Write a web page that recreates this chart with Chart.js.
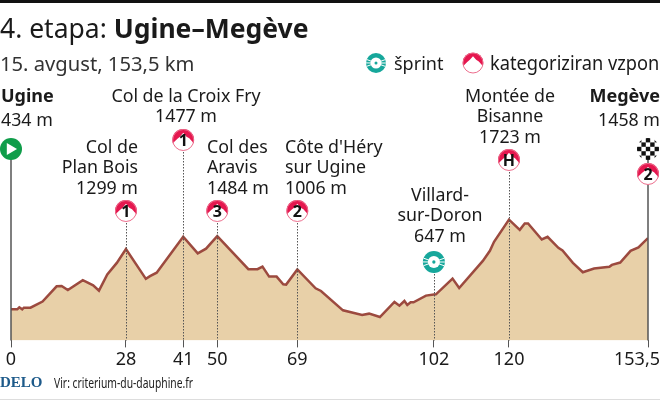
<!DOCTYPE html>
<html lang="sl">
<head>
<meta charset="utf-8">
<title>4. etapa: Ugine–Megève</title>
<script src="https://cdn.jsdelivr.net/npm/chart.js@4/dist/chart.umd.min.js"></script>
<style>
  html, body { margin: 0; padding: 0; background: #fff; }
  body { width: 660px; height: 400px; overflow: hidden; position: relative; font-family: "Noto Sans", sans-serif; color: #1a1a1a; }
  canvas { position: absolute; left: 0; top: 0; }
  .txt { position: absolute; white-space: nowrap; margin: 0; font-weight: 400; }
  #bar { position: absolute; left: 0; top: 0; width: 660px; height: 3px; background: #111; }
  #rule { position: absolute; left: 0; top: 399px; width: 660px; height: 1px; background: #ddd; }
  #title { left: 0; top: 10px; font-size: 26.5px; line-height: 36px; }
  #sub { left: 0; top: 50px; font-size: 20.2px; line-height: 26px; color: #333; }
  #lg1 { left: 394px; top: 50px; font-size: 18px; line-height: 26px; }
  #lg2 { left: 490px; top: 50px; font-size: 19px; line-height: 26px; transform: scaleX(.96); transform-origin: left; }
  #delo { left: 0; top: 374px; font: bold 15px "Liberation Serif", serif; color: #1d5a8a; }
  #src { left: 54px; top: 374px; font-size: 13.5px; color: #222; transform: scaleX(.765); transform-origin: left; }
</style>
</head>
<body>
<canvas id="profile" width="660" height="400"></canvas>
<div id="bar"></div>
<h1 class="txt" id="title">4. etapa: <b>Ugine–Megève</b></h1>
<p class="txt" id="sub">15. avgust, 153,5 km</p>
<span class="txt" id="lg1">šprint</span>
<span class="txt" id="lg2">kategoriziran vzpon</span>
<span class="txt" id="delo">DELO</span>
<span class="txt" id="src">Vir: criterium-du-dauphine.fr</span>
<div id="rule"></div>
<script>
"use strict";

/* --- DATA --- */

const km = [0, 1.5, 2, 2.7, 3.1, 4.7, 7.6, 11, 12.2, 13.7, 17.3, 19.8, 21.2, 23.2, 25.5, 27.7,
  32.5, 33.5, 35.1, 41.5, 45, 47, 49.7, 57.2, 59.4, 60.6, 62.2, 64, 65.6, 66.3, 69,
  73.4, 74.7, 80, 84.6, 86.3, 88.9, 92.4, 93.6, 94.8, 95.5, 96.3, 97, 100, 101.9, 102.4,
  106.4, 108, 113.7, 115.4, 116.4, 120, 122.6, 123.8, 124.6, 127.9, 129.3, 131.9, 132.9,
  135.4, 137.8, 140.5, 144.2, 144.8, 146.8, 149.3, 151.2, 153.5];

const elevation = [434, 434, 463, 434, 458, 458, 546, 765, 770, 711, 852, 779, 702, 935, 1101, 1299,
  872, 911, 960, 1477, 1237, 1305, 1484, 1010, 1010, 1048, 904, 904, 794, 789, 1006,
  736, 698, 420, 352, 372, 324, 540, 487, 554, 496, 535, 535, 631, 647, 650,
  876, 741, 1130, 1274, 1404, 1723, 1576, 1668, 1668, 1437, 1476, 1317, 1279,
  1101, 967, 1020, 1044, 1072, 1106, 1274, 1322, 1458];

// where the ticks sit in the picture, and what they are labelled
const tickKm = [0, 27.7, 41.5, 49.7, 69, 101.9, 120, 153.5];
const tickLabels = ['0', '28', '41', '50', '69', '102', '120', '153,5'];

const climbKm = [27.7, 41.5, 49.7, 69, 120, 153.5];
const climbCat = ['1', '1', '3', '2', 'H', '2'];
const sprintKm = [101.9];
const startKm = 0;
const finishKm = 153.5;

const placeNames = [
  ['Ugine'],
  ['Col de', 'Plan Bois'],
  ['Col de la Croix Fry'],
  ['Col des', 'Aravis'],
  ["Côte d'Héry", 'sur Ugine'],
  ['Villard-', 'sur-Doron'],
  ['Montée de', 'Bisanne'],
  ['Megève']
];
const placeHeights = ['434 m', '1299 m', '1477 m', '1484 m', '1006 m', '647 m', '1723 m', '1458 m'];

/* --- LAYOUT (pixels on the page) --- */

const labelX = [1, 138, 186, 207, 285, 440, 510, 660];
const labelAlign = ['left', 'right', 'center', 'left', 'left', 'center', 'center', 'right'];
const labelTop = [98, 146, 95, 146, 146, 194, 95, 98];
const labelBold = [true, false, false, false, false, false, false, true];
const climbBadgeY = [211, 140, 211, 211, 160, 174];

const CRIMSON = '#e5174f';
const PINK = '#ec6d8c';
const TEAL = '#16a79b';
const GREEN = '#0f9d4a';
const FONT = '"Noto Sans", sans-serif';

function climbBadge(ctx, x, y, r, txt) {
  ctx.save();
  ctx.beginPath();
  ctx.arc(x, y, r, 0, Math.PI * 2);
  ctx.fillStyle = '#fff';
  ctx.fill();
  ctx.clip();
  // red cap with the white peaks cut into it
  ctx.beginPath();
  ctx.moveTo(x - r, y + r * 0.35);
  ctx.lineTo(x - r * 0.55, y - r * 0.1);
  ctx.lineTo(x - r * 0.3, y - r * 0.3);
  ctx.lineTo(x, y - r * 0.65);
  ctx.lineTo(x + r * 0.3, y - r * 0.3);
  ctx.lineTo(x + r * 0.55, y - r * 0.15);
  ctx.lineTo(x + r, y + r * 0.35);
  ctx.lineTo(x + r, y - r);
  ctx.lineTo(x - r, y - r);
  ctx.closePath();
  ctx.fillStyle = CRIMSON;
  ctx.fill();
  ctx.restore();
  ctx.beginPath();
  ctx.arc(x, y, r - 0.5, 0, Math.PI * 2);
  ctx.strokeStyle = PINK;
  ctx.lineWidth = 1;
  ctx.stroke();
  if (txt) {
    ctx.fillStyle = '#111';
    ctx.font = 'bold 16px ' + FONT;
    ctx.textAlign = 'center';
    ctx.textBaseline = 'middle';
    ctx.fillText(txt, x, y + 1);
  }
}

function sprintBadge(ctx, x, y, r) {
  ctx.save();
  ctx.beginPath();
  ctx.arc(x, y, r, 0, Math.PI * 2);
  ctx.fillStyle = TEAL;
  ctx.fill();
  ctx.beginPath();
  ctx.arc(x, y, r * 0.55, 0, Math.PI * 2);
  ctx.fillStyle = '#fff';
  ctx.fill();
  ctx.beginPath();
  ctx.arc(x, y, r * 0.15, 0, Math.PI * 2);
  ctx.fillStyle = TEAL;
  ctx.fill();
  ctx.strokeStyle = '#fff';
  ctx.lineWidth = 1;
  for (const a of [-0.35, 0, 0.35, 2.8, 3.15, 3.5]) {
    ctx.beginPath();
    ctx.moveTo(x + Math.cos(a) * r * 0.5, y + Math.sin(a) * r * 0.5);
    ctx.lineTo(x + Math.cos(a) * r, y + Math.sin(a) * r);
    ctx.stroke();
  }
  ctx.restore();
}

function startBadge(ctx, x, y, r) {
  ctx.beginPath();
  ctx.arc(x, y, r, 0, Math.PI * 2);
  ctx.fillStyle = GREEN;
  ctx.fill();
  ctx.beginPath();
  ctx.moveTo(x - r * 0.38, y - r * 0.55);
  ctx.lineTo(x + r * 0.55, y);
  ctx.lineTo(x - r * 0.38, y + r * 0.55);
  ctx.closePath();
  ctx.fillStyle = '#fff';
  ctx.fill();
}

function finishBadge(ctx, x, y, r) {
  ctx.save();
  ctx.beginPath();
  ctx.arc(x, y, r, 0, Math.PI * 2);
  ctx.clip();
  ctx.fillStyle = '#fff';
  ctx.fillRect(x - r, y - r, r * 2, r * 2);
  ctx.fillStyle = '#111';
  const s = r / 2.5;
  for (let i = 0; i < 6; i++) {
    for (let j = 0; j < 6; j++) {
      if ((i + j) % 2 === 0) ctx.fillRect(x - r + i * s, y - r + j * s, s, s);
    }
  }
  ctx.restore();
}

const profileDecor = {
  id: 'profileDecor',
  afterDatasetsDraw(chart) {
    const { ctx, scales: { x: xs }, chartArea } = chart;
    const base = chartArea.bottom;

    ctx.save();

    // dotted stems for the climbs and the sprint
    ctx.strokeStyle = '#555';
    ctx.lineWidth = 1;
    ctx.setLineDash([1.5, 1.5]);
    climbKm.forEach((k, i) => {
      if (k === finishKm) return;
      const px = Math.round(xs.getPixelForValue(k)) + 0.5;
      ctx.beginPath();
      ctx.moveTo(px, climbBadgeY[i]);
      ctx.lineTo(px, base);
      ctx.stroke();
    });
    sprintKm.forEach(k => {
      const px = Math.round(xs.getPixelForValue(k)) + 0.5;
      ctx.beginPath();
      ctx.moveTo(px, 262);
      ctx.lineTo(px, base);
      ctx.stroke();
    });
    ctx.setLineDash([]);

    // solid lines at start and finish
    ctx.strokeStyle = '#555';
    ctx.lineWidth = 1.5;
    [startKm, finishKm].forEach(k => {
      const px = xs.getPixelForValue(k);
      ctx.beginPath();
      ctx.moveTo(px, 150);
      ctx.lineTo(px, base);
      ctx.stroke();
    });

    // badges
    startBadge(ctx, xs.getPixelForValue(startKm), 149, 11);
    finishBadge(ctx, xs.getPixelForValue(finishKm), 149, 11);
    climbKm.forEach((k, i) => climbBadge(ctx, xs.getPixelForValue(k), climbBadgeY[i], 11, climbCat[i]));
    sprintKm.forEach(k => sprintBadge(ctx, xs.getPixelForValue(k), 262, 11));

    // legend icons
    sprintBadge(ctx, 376, 63, 10);
    climbBadge(ctx, 473, 63, 10.5, '');

    // place labels
    ctx.textBaseline = 'top';
    ctx.fillStyle = '#1a1a1a';
    placeNames.forEach((lines, i) => {
      ctx.textAlign = labelAlign[i];
      const rowH = labelBold[i] ? 24 : 20.5;
      const top = labelTop[i] - (labelBold[i] ? 10 : 7);
      lines.forEach((line, j) => {
        ctx.font = (labelBold[i] ? 'bold 18px ' : '17.8px ') + FONT;
        ctx.fillText(line, labelX[i], top + j * rowH);
      });
      ctx.font = '17.8px ' + FONT;
      ctx.fillText(placeHeights[i], labelX[i], top + lines.length * rowH);
    });

    // last tick label would run off the page, so it is right aligned to the edge
    ctx.font = '18px ' + FONT;
    ctx.textAlign = 'right';
    ctx.textBaseline = 'middle';
    ctx.fillText(tickLabels[tickLabels.length - 1], 660, base + 19);

    ctx.restore();
  }
};

new Chart(document.getElementById('profile'), {
  type: 'line',
  data: {
    datasets: [{
      data: km.map((k, i) => ({ x: k, y: elevation[i] })),
      borderColor: '#9c4a3f',
      borderWidth: 2.5,
      backgroundColor: '#e8d0a8',
      fill: 'start',
      pointRadius: 0,
      tension: 0
    }]
  },
  options: {
    responsive: false,
    animation: false,
    layout: { padding: { left: 11, right: 12, top: 200, bottom: 27 } },
    plugins: { legend: { display: false }, tooltip: { enabled: false }, title: { display: false } },
    scales: {
      x: {
        type: 'linear',
        min: 0,
        max: 153.5,
        afterBuildTicks(axis) { axis.ticks = tickKm.map(v => ({ value: v })); },
        afterFit(axis) { axis.paddingLeft = 0; axis.paddingRight = 0; },
        grid: { drawOnChartArea: false, drawTicks: true, tickLength: 7, color: '#555', lineWidth: 1 },
        border: { display: false },
        ticks: {
          autoSkip: false,
          maxRotation: 0,
          padding: 2,
          color: '#1a1a1a',
          font: { family: '"Noto Sans"', size: 18 },
          callback: (v, i) => (i === tickLabels.length - 1 ? '' : tickLabels[i])
        }
      },
      y: { display: false, min: -12, max: 2004 }
    }
  },
  plugins: [profileDecor]
});
</script>
</body>
</html>
